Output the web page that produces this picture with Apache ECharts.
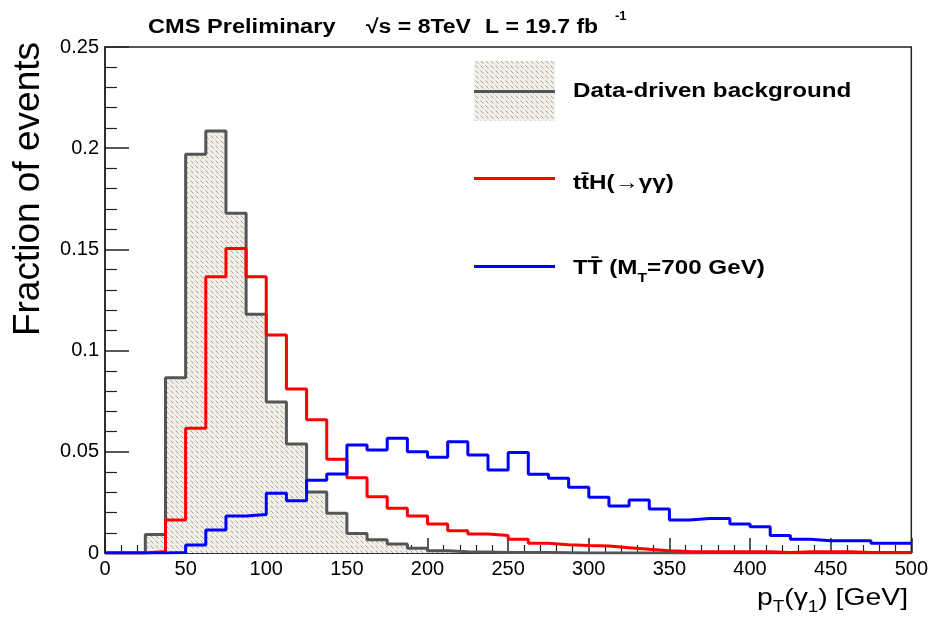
<!DOCTYPE html>
<html>
<head>
<meta charset="utf-8">
<script src="https://cdn.jsdelivr.net/npm/echarts@6/dist/echarts.min.js"></script>
<style>
html,body{margin:0;padding:0;background:#fff;}
#chart{width:931px;height:624px;}
</style>
</head>
<body>
<div id="chart"></div>
<script>
// ---- data (bins of 12.5 GeV from 0 to 500 GeV) ----
const binWidth = 12.5;
const xTicks = [0, 50, 100, 150, 200, 250, 300, 350, 400, 450, 500];
const yTicks = [0, 0.05, 0.1, 0.15, 0.2, 0.25];
const seriesNames = ['Data-driven background', 'ttH', 'TT'];
const background = [0, 0, 0.0092, 0.0866, 0.197, 0.2085, 0.1678, 0.118, 0.0746, 0.0538,
  0.0302, 0.0196, 0.0096, 0.0065, 0.0044, 0.0024, 0.0011, 0.0006, 0.0005, 0.0003,
  0.0002, 0.0002, 0.0001, 0, 0, 0, 0, 0, 0, 0,
  0, 0, 0, 0, 0, 0, 0, 0, 0, 0];
const ttH = [0, 0, 0.0008, 0.0163, 0.0616, 0.1365, 0.1505, 0.1365, 0.1077, 0.081,
  0.0658, 0.0463, 0.0372, 0.0278, 0.0221, 0.0183, 0.0143, 0.011, 0.0094, 0.0086,
  0.0068, 0.0048, 0.0041, 0.0037, 0.0034, 0.0026, 0.0018, 0.0011, 0.0007, 0.0006,
  0.0006, 0.0006, 0.0006, 0.0002, 0.0006, 0.0006, 0.0006, 0.0002, 0.0002, 0.0002];
const TT700 = [0, 0, 0, 0.0003, 0.004, 0.0114, 0.0183, 0.019, 0.0295, 0.0258,
  0.036, 0.039, 0.0534, 0.0509, 0.0567, 0.050, 0.0473, 0.055, 0.0484, 0.041,
  0.0497, 0.0389, 0.0369, 0.0325, 0.0275, 0.0232, 0.0262, 0.0217, 0.0163, 0.0171,
  0.0171, 0.0143, 0.013, 0.0087, 0.0068, 0.0061, 0.0061, 0.0061, 0.0048, 0.0048];

function toSteps(vals) {
  const pts = vals.map((v, i) => [i * binWidth, v]);
  pts.push([vals.length * binWidth, vals[vals.length - 1]]);
  return pts;
}

function makeHatch() {
  const c = document.createElement('canvas');
  c.width = 5; c.height = 5;
  const g = c.getContext('2d');
  g.fillStyle = '#f1efe9';
  g.fillRect(0, 0, 5, 5);
  g.strokeStyle = '#aaa496';
  g.lineWidth = 1;
  g.beginPath();
  g.moveTo(0.5, 0.5); g.lineTo(3.5, 3.5);
  g.stroke();
  return c;
}
const hatch = { image: makeHatch(), repeat: 'repeat' };

const FONT = '"Liberation Sans", Arial, Helvetica, sans-serif';
const chart = echarts.init(document.getElementById('chart'), null, { renderer: 'canvas' });

const boldText = (x, y, text, sx) => ({
  type: 'text', x: x, y: y, scaleX: sx || 1.15, originX: 0, originY: 0, z: 100,
  style: { text: text, font: 'bold 20px ' + FONT, fill: '#000', align: 'left', verticalAlign: 'middle' }
});

const option = {
  animation: false,
  backgroundColor: '#fff',
  grid: { left: 105, right: 19, top: 47, bottom: 71, show: true,
    borderColor: '#222', borderWidth: 1.5, backgroundColor: 'transparent' },
  xAxis: {
    type: 'value', min: xTicks[0], max: xTicks[xTicks.length - 1], interval: 50,
    axisLine: { show: true, onZero: false, lineStyle: { color: '#222', width: 1.5 } },
    axisTick: { show: true, inside: true, length: 15, lineStyle: { color: '#222', width: 1.5 } },
    minorTick: { show: true, splitNumber: 5, length: 8, lineStyle: { color: '#222', width: 1.2 } },
    splitLine: { show: false },
    axisLabel: { margin: 6, fontSize: 20, fontFamily: FONT, color: '#000' }
  },
  yAxis: {
    type: 'value', min: yTicks[0], max: yTicks[yTicks.length - 1], interval: 0.05,
    axisLine: { show: true, lineStyle: { color: '#222', width: 1.5 } },
    axisTick: { show: true, inside: true, length: 24, lineStyle: { color: '#222', width: 1.5 } },
    minorTick: { show: true, splitNumber: 5, length: 12, lineStyle: { color: '#222', width: 1.2 } },
    splitLine: { show: false },
    axisLabel: { margin: 6, fontSize: 20, fontFamily: FONT, color: '#000' }
  },
  series: [
    { name: seriesNames[0], type: 'line', step: 'end', data: toSteps(background),
      symbol: 'none', z: 2,
      lineStyle: { color: '#555', width: 3 },
      areaStyle: { color: hatch, opacity: 1 } },
    { name: seriesNames[1], type: 'line', step: 'end', data: toSteps(ttH),
      symbol: 'none', z: 3, lineStyle: { color: '#ff0000', width: 3 } },
    { name: seriesNames[2], type: 'line', step: 'end', data: toSteps(TT700),
      symbol: 'none', z: 4, lineStyle: { color: '#0000ff', width: 3 } }
  ],
  graphic: [
    // header
    boldText(148, 27, 'CMS Preliminary', 1.18),
    boldText(366, 27, '\u221As = 8TeV'),
    boldText(485, 27, 'L = 19.7 fb'),
    { type: 'text', x: 615, y: 16, z: 100, style: { text: '-1', font: 'bold 13px ' + FONT, fill: '#000', align: 'left', verticalAlign: 'middle' } },
    // legend
    { type: 'rect', shape: { x: 474, y: 61, width: 81, height: 60 }, style: { fill: hatch, stroke: null }, z: 90 },
    { type: 'line', shape: { x1: 474, y1: 91.5, x2: 555, y2: 91.5 }, style: { stroke: '#555', lineWidth: 3 }, z: 91 },
    boldText(573, 91, 'Data-driven background', 1.21),
    { type: 'line', shape: { x1: 474, y1: 178.5, x2: 555, y2: 178.5 }, style: { stroke: '#ff0000', lineWidth: 3 }, z: 91 },
    boldText(573, 183, 'tt\u0304H(\u2192\u03B3\u03B3)', 1.21),
    { type: 'line', shape: { x1: 474, y1: 266.5, x2: 555, y2: 266.5 }, style: { stroke: '#0000ff', lineWidth: 3 }, z: 91 },
    { type: 'text', x: 573, y: 268, scaleX: 1.21, originX: 0, originY: 0, z: 100,
      style: { text: '{n|TT\u0304 (M}{s|T}{n|=700 GeV)}', align: 'left', verticalAlign: 'middle',
        rich: {
          n: { font: 'bold 20px ' + FONT, fill: '#000', lineHeight: 34, verticalAlign: 'middle' },
          s: { font: 'bold 13px ' + FONT, fill: '#000', lineHeight: 34, verticalAlign: 'bottom' }
        } } },
    // axis titles
    { type: 'text', x: 29, y: 42, rotation: Math.PI / 2, z: 100,
      style: { text: 'Fraction of events', font: '37px ' + FONT, fill: '#000', align: 'right', verticalAlign: 'middle' } },
    { type: 'text', x: 908, y: 598, scaleX: 1.18, originX: 0, originY: 0, z: 100,
      style: { text: '{n|p}{s|T}{n|(\u03B3}{s|1}{n|) [GeV]}', align: 'right', verticalAlign: 'middle',
        rich: {
          n: { font: '24px ' + FONT, fill: '#000', lineHeight: 36, verticalAlign: 'middle' },
          s: { font: '16px ' + FONT, fill: '#000', lineHeight: 36, verticalAlign: 'bottom' }
        } } }
  ]
};
chart.setOption(option);
</script>
</body>
</html>
